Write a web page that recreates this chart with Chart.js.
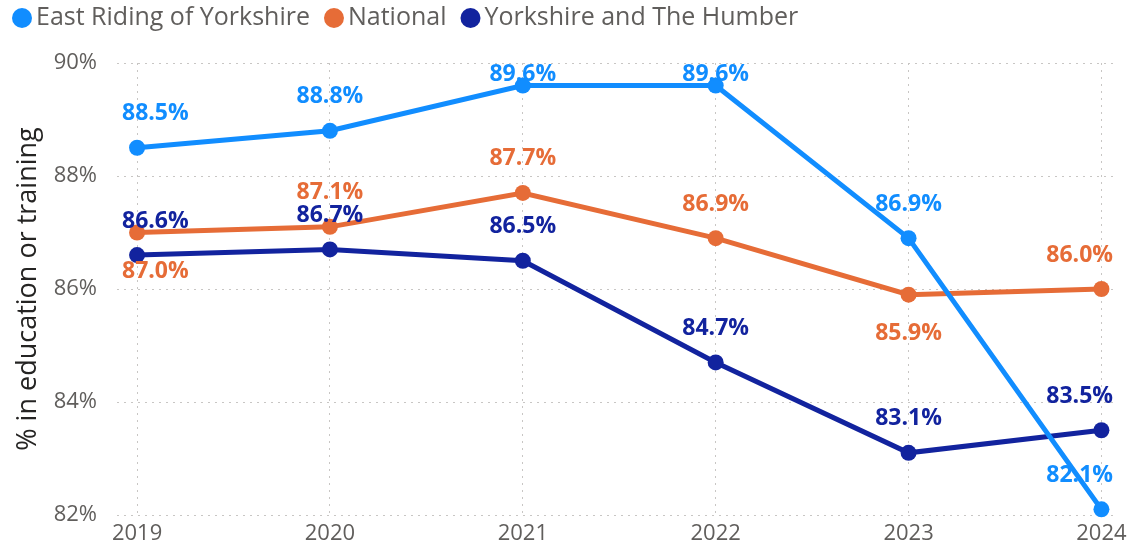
<!DOCTYPE html>
<html>
<head>
<meta charset="utf-8">
<script src="https://cdn.jsdelivr.net/npm/chart.js@4/dist/chart.umd.min.js"></script>
<style>
  html, body { margin: 0; padding: 0; background: #fff; }
  #wrap { width: 1128px; height: 553px; position: relative; }
</style>
</head>
<body>
<div id="wrap"><canvas id="chart"></canvas></div>
<script>
// Daten
const years = [2019, 2020, 2021, 2022, 2023, 2024];
const eastRiding = [88.5, 88.8, 89.6, 89.6, 86.9, 82.1];
const national = [87.0, 87.1, 87.7, 86.9, 85.9, 86.0];
const yorkshireHumber = [86.6, 86.7, 86.5, 84.7, 83.1, 83.5];
const yTicks = [82, 84, 86, 88, 90];

const FONT = "'Open Sans', 'Noto Sans', sans-serif";
const COLORS = { er: "#118DFF", nat: "#E66C37", yh: "#12239E" };

// Beschriftung ober-/unterhalb des Punkts (1 = oben, -1 = unten)
const labelSide = {
  0: [1, 1, 1, 1, 1, 1],
  1: [-1, 1, 1, 1, -1, 1],
  2: [1, 1, 1, 1, 1, 1],
};

const pts = (vals) => vals.map((v, i) => ({ x: years[i], y: v }));

// einfache Datenbeschriftung (kein datalabels-Plugin verfügbar),
// wie in Power BI innerhalb der Plotfläche gehalten
const valueLabels = {
  id: "valueLabels",
  afterDatasetsDraw(chart) {
    const { ctx, chartArea } = chart;
    ctx.save();
    ctx.font = "bold 23px " + FONT;
    ctx.textAlign = "center";
    ctx.textBaseline = "middle";
    chart.data.datasets.forEach((ds, di) => {
      const meta = chart.getDatasetMeta(di);
      meta.data.forEach((pt, i) => {
        const txt = ds.data[i].y.toFixed(1) + "%";
        const half = ctx.measureText(txt).width / 2;
        const side = labelSide[di][i];
        let y = side > 0 ? pt.y - 34 : pt.y + 39;
        y = Math.max(y, chartArea.top + 11);
        let x = Math.max(pt.x, chartArea.left + 5 + half);
        x = Math.min(x, chartArea.right - half);
        ctx.fillStyle = ds.borderColor;
        ctx.fillText(txt, x, y);
      });
    });
    ctx.restore();
  },
};

// Legende oben links, Kreis direkt vor dem Text
const topLegend = {
  id: "topLegend",
  afterDraw(chart) {
    const { ctx } = chart;
    ctx.save();
    ctx.font = "25px " + FONT;
    ctx.textBaseline = "middle";
    let x = 12;
    const y = 18;
    chart.data.datasets.forEach((ds) => {
      ctx.fillStyle = ds.borderColor;
      ctx.beginPath();
      ctx.arc(x + 10, y, 10, 0, Math.PI * 2);
      ctx.fill();
      x += 24;
      ctx.fillStyle = "#605E5C";
      ctx.fillText(ds.label, x, y);
      x += ctx.measureText(ds.label).width + 14;
    });
    ctx.restore();
  },
};

function mkSet(label, vals, color) {
  return {
    label: label,
    data: pts(vals),
    borderColor: color,
    backgroundColor: color,
    borderWidth: 5,
    pointRadius: 8,
    pointHoverRadius: 8,
    pointBorderWidth: 0,
    tension: 0,
    clip: false,
  };
}

new Chart(document.getElementById("chart"), {
  type: "line",
  data: {
    datasets: [
      mkSet("East Riding of Yorkshire", eastRiding, COLORS.er),
      mkSet("National", national, COLORS.nat),
      mkSet("Yorkshire and The Humber", yorkshireHumber, COLORS.yh),
    ],
  },
  options: {
    responsive: true,
    maintainAspectRatio: false,
    animation: false,
    layout: { padding: { left: 0, right: 15, top: 63, bottom: 0 } },
    plugins: {
      legend: { display: false },
      tooltip: { enabled: false },
    },
    scales: {
      x: {
        type: "linear",
        min: 2018.896,
        max: 2024.06,
        afterBuildTicks: (s) => { s.ticks = years.map((v) => ({ value: v })); },
        afterFit: (s) => {
          s.height = 38;
          // "2024" darf am Rand angeschnitten werden, wie im Original
          s.paddingRight = 0;
          s.paddingLeft = 0;
        },
        ticks: {
          color: "#605E5C",
          font: { family: FONT, size: 22 },
          callback: (v) => String(v),
          padding: 6,
        },
        grid: { color: "#C8C6C4", lineWidth: 1, drawTicks: false },
        border: { display: false, dash: [2, 5] },
      },
      y: {
        min: 82,
        max: 90,
        afterBuildTicks: (s) => { s.ticks = yTicks.map((v) => ({ value: v })); },
        afterFit: (s) => { s.width = 117; },
        ticks: {
          color: "#605E5C",
          font: { family: FONT, size: 22 },
          callback: (v) => v + "%",
          padding: 20,
        },
        title: {
          display: true,
          text: "% in education or training",
          color: "#252423",
          font: { family: FONT, size: 27 },
          padding: { top: 12, bottom: 4 },
        },
        grid: { color: "#C8C6C4", lineWidth: 1, drawTicks: false },
        border: { display: false, dash: [2, 5] },
      },
    },
  },
  plugins: [valueLabels, topLegend],
});
</script>
</body>
</html>
